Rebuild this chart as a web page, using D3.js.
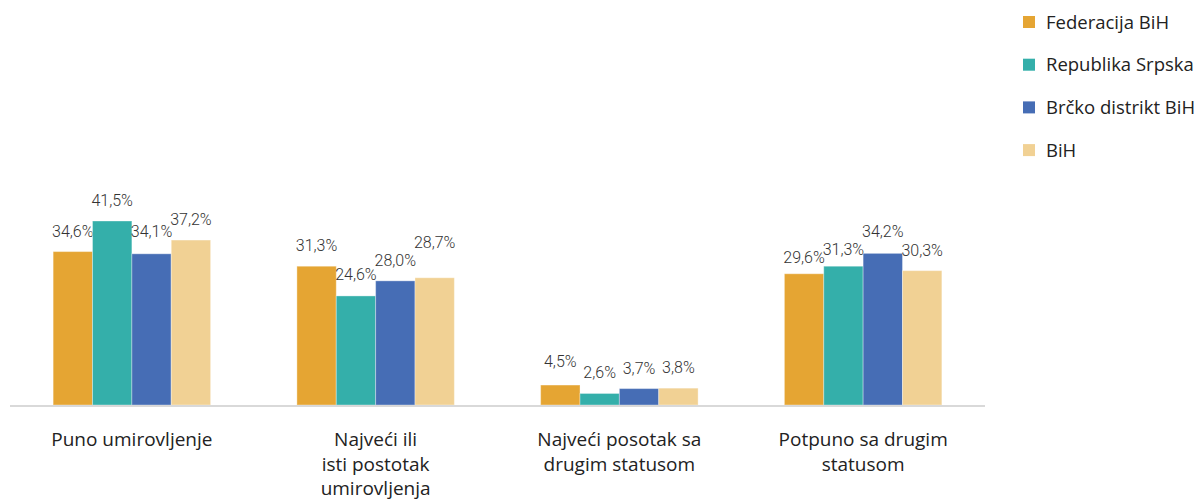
<!DOCTYPE html>
<html><head><meta charset="utf-8">
<script src="https://cdn.jsdelivr.net/npm/d3@7"></script>
<style>body{margin:0;background:#fff}</style>
</head><body>
<svg id="c" width="1198" height="501"></svg>
<script>
const categories = [["Puno umirovljenje"],["Najveći ili","isti postotak","umirovljenja"],["Najveći posotak sa","drugim statusom"],["Potpuno sa drugim","statusom"]];
const seriesNames = ["Federacija BiH","Republika Srpska","Brčko distrikt BiH","BiH"];
const federacija = [34.6,31.3,4.5,29.6];
const republika = [41.5,24.6,2.6,31.3];
const brcko = [34.1,28.0,3.7,34.2];
const bih = [37.2,28.7,3.8,30.3];
const colors = ["#E5A533","#34AFAA","#466DB5","#F1D194"];
const series = [federacija, republika, brcko, bih];
// label vertical nudges (layout only), per series per category
const labelNudge = [[0,0,-3,4],[0,-1,0,4],[-2,0,0,-1],[0,-15,0,0]];

const svg = d3.select("#c");
const baseY = 405;
const x0 = d3.scaleBand().domain(d3.range(categories.length)).range([10,985]).paddingInner(0.354).paddingOuter(0.177);
const x1 = d3.scaleBand().domain(d3.range(series.length)).range([0,x0.bandwidth()]);
const y = d3.scaleLinear().domain([0,41.5]).range([baseY,221]);

const g = svg.append("g");
categories.forEach((c,i)=>{
  series.forEach((s,j)=>{
    g.append("rect").attr("x",x0(i)+x1(j)).attr("y",y(s[i])).attr("width",x1.bandwidth()).attr("height",baseY-y(s[i]))
      .attr("fill",colors[j]).attr("stroke","rgba(255,255,255,0.35)").attr("stroke-width",1);
    g.append("text").attr("x",x0(i)+x1(j)+x1.bandwidth()/2).attr("y",y(s[i])-15+labelNudge[j][i])
      .attr("text-anchor","middle").attr("font-family","Roboto").attr("font-weight",300).attr("font-size",16).attr("fill","#333")
      .text(s[i].toFixed(1).replace(".",",")+"%");
  });
});
svg.append("line").attr("x1",10).attr("x2",985).attr("y1",baseY+1).attr("y2",baseY+1).attr("stroke","#d9d9d9").attr("stroke-width",2);

categories.forEach((c,i)=>{
  const t = svg.append("text").attr("x",x0(i)+x0.bandwidth()/2).attr("y",446).attr("text-anchor","middle")
    .attr("font-family","Open Sans").attr("font-size",19).attr("fill","#222");
  c.forEach((l,k)=>t.append("tspan").attr("x",x0(i)+x0.bandwidth()/2).attr("dy",k?24.5:0).text(l));
});

const leg = svg.append("g");
seriesNames.forEach((n,j)=>{
  const yy = 22 + j*42.7;
  leg.append("rect").attr("x",1023).attr("y",yy-6).attr("width",12).attr("height",12).attr("fill",colors[j]);
  leg.append("text").attr("x",1046).attr("y",yy+6.5).attr("font-family","Open Sans").attr("font-size",18.5).attr("fill","#222").text(n);
});
</script>
</body></html>
